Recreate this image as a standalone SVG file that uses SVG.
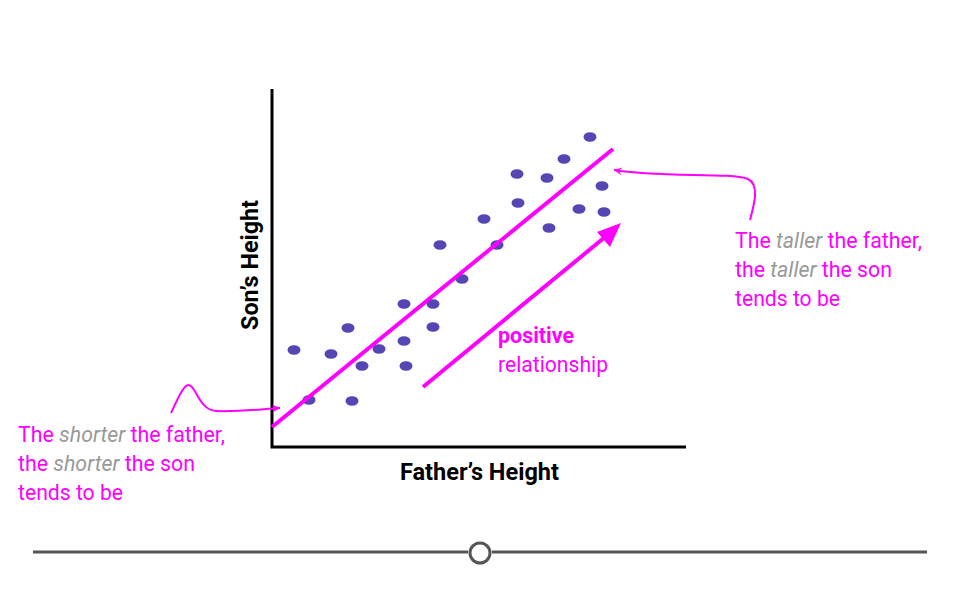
<svg xmlns="http://www.w3.org/2000/svg" width="960" height="600" viewBox="0 0 960 600">
<defs>
<style>
.dot{fill:#5447b3}
.mag{fill:#ff00ff;font-family:Roboto,"Noto Sans",sans-serif;font-size:22px}
.gr{fill:#999999;font-style:italic}
.ax{font-family:Roboto,"Noto Sans",sans-serif;font-size:23px;font-weight:bold;fill:#000}
.conn{fill:none;stroke:#ff00ff;stroke-width:2}
</style>
<marker id="ah" markerWidth="10" markerHeight="10" refX="8" refY="5" orient="auto" markerUnits="userSpaceOnUse">
<path d="M0,1 L8,5 L0,9 L3,5 Z" fill="#ff00ff"/>
</marker>
</defs>
<rect width="960" height="600" fill="#fff"/>
<g id="axes">
<path d="M272,89 V447 H686" fill="none" stroke="#000" stroke-width="3"/>
<text class="ax" transform="translate(258,265) rotate(-90)" text-anchor="middle" textLength="130" lengthAdjust="spacingAndGlyphs">Son’s Height</text>
<text class="ax" x="479.5" y="480" text-anchor="middle" textLength="159" lengthAdjust="spacingAndGlyphs">Father’s Height</text>
</g>
<g id="points">
<ellipse class="dot" cx="590" cy="137" rx="6.5" ry="4.8"/>
<ellipse class="dot" cx="564" cy="159" rx="6.5" ry="4.8"/>
<ellipse class="dot" cx="517" cy="174" rx="6.5" ry="4.8"/>
<ellipse class="dot" cx="547" cy="178" rx="6.5" ry="4.8"/>
<ellipse class="dot" cx="602" cy="186" rx="6.5" ry="4.8"/>
<ellipse class="dot" cx="518" cy="203" rx="6.5" ry="4.8"/>
<ellipse class="dot" cx="579" cy="209" rx="6.5" ry="4.8"/>
<ellipse class="dot" cx="604" cy="212" rx="6.5" ry="4.8"/>
<ellipse class="dot" cx="484" cy="219" rx="6.5" ry="4.8"/>
<ellipse class="dot" cx="549" cy="228" rx="6.5" ry="4.8"/>
<ellipse class="dot" cx="440" cy="245" rx="6.5" ry="4.8"/>
<ellipse class="dot" cx="497" cy="245" rx="6.5" ry="4.8"/>
<ellipse class="dot" cx="462" cy="279" rx="6.5" ry="4.8"/>
<ellipse class="dot" cx="404" cy="304" rx="6.5" ry="4.8"/>
<ellipse class="dot" cx="433" cy="304" rx="6.5" ry="4.8"/>
<ellipse class="dot" cx="348" cy="328" rx="6.5" ry="4.8"/>
<ellipse class="dot" cx="433" cy="327" rx="6.5" ry="4.8"/>
<ellipse class="dot" cx="294" cy="350" rx="6.5" ry="4.8"/>
<ellipse class="dot" cx="331" cy="354" rx="6.5" ry="4.8"/>
<ellipse class="dot" cx="379" cy="349" rx="6.5" ry="4.8"/>
<ellipse class="dot" cx="404" cy="341" rx="6.5" ry="4.8"/>
<ellipse class="dot" cx="362" cy="366" rx="6.5" ry="4.8"/>
<ellipse class="dot" cx="406" cy="366" rx="6.5" ry="4.8"/>
<ellipse class="dot" cx="309" cy="400" rx="6.5" ry="4.8"/>
<ellipse class="dot" cx="352" cy="401" rx="6.5" ry="4.8"/>
</g>
<g id="trend-line">
<line x1="272" y1="427" x2="613" y2="149" stroke="#ff00ff" stroke-width="4"/>
</g>
<g id="positive-arrow">
<line x1="423" y1="387" x2="605" y2="237" stroke="#ff00ff" stroke-width="4"/>
<path d="M621,223 L597,232 L610,247 Z" fill="#ff00ff"/>
<text class="mag" x="498" y="343" font-weight="bold" textLength="76" lengthAdjust="spacingAndGlyphs">positive</text>
<text class="mag" x="498" y="372" textLength="110" lengthAdjust="spacingAndGlyphs">relationship</text>
</g>
<g id="connectors">
<path class="conn" d="M171,413 C178,398 184,384 189,385 C196,386 199,410 216,411 C240,412 262,409 280,408" marker-end="url(#ah)"/>
<path class="conn" d="M750,220 C754,205 760,185 748,179 C730,172 660,178 614,170" marker-end="url(#ah)"/>
</g>
<g id="label-short">
<text class="mag" x="18" y="442" textLength="207" lengthAdjust="spacingAndGlyphs">The <tspan class="gr">shorter</tspan> the father,</text>
<text class="mag" x="18" y="471" textLength="177" lengthAdjust="spacingAndGlyphs">the <tspan class="gr">shorter</tspan> the son</text>
<text class="mag" x="18" y="500" textLength="105" lengthAdjust="spacingAndGlyphs">tends to be</text>
</g>
<g id="label-tall">
<text class="mag" x="735" y="248" textLength="187" lengthAdjust="spacingAndGlyphs">The <tspan class="gr">taller</tspan> the father,</text>
<text class="mag" x="735" y="277" textLength="157" lengthAdjust="spacingAndGlyphs">the <tspan class="gr">taller</tspan> the son</text>
<text class="mag" x="735" y="306" textLength="105" lengthAdjust="spacingAndGlyphs">tends to be</text>
</g>
<g id="slider">
<line x1="33" y1="552" x2="468" y2="552" stroke="#555" stroke-width="3"/>
<line x1="492" y1="552" x2="927" y2="552" stroke="#555" stroke-width="3"/>
<circle cx="480" cy="553" r="10" fill="#fff" stroke="#555" stroke-width="3"/>
</g>
</svg>
